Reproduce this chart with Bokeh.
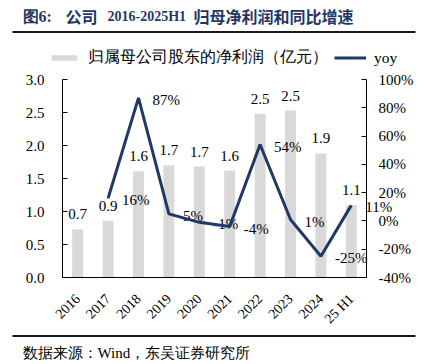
from bokeh.plotting import figure
from bokeh.models import (Range1d, LinearAxis, FixedTicker, PrintfTickFormatter,
                          ColumnDataSource, Legend, LegendItem)
from bokeh.embed import file_html
from bokeh.resources import INLINE
from bokeh.core.properties import value

# ---- data ----
categories = ["2016", "2017", "2018", "2019", "2020", "2021", "2022", "2023", "2024", "25 H1"]
profit = [0.73, 0.86, 1.61, 1.70, 1.68, 1.62, 2.48, 2.53, 1.88, 1.10]
yoy = [None, 16, 87, 5, -1, -4, 54, 1, -25, 11]
left_ticks = [0.0, 0.5, 1.0, 1.5, 2.0, 2.5, 3.0]
right_ticks = [-40, -20, 0, 20, 40, 60, 80, 100]
bar_label = "归属母公司股东的净利润（亿元）"
line_label = "yoy"
title_parts = ["图6:", "公司", "2016-2025H1", "归母净利润和同比增速"]
source_text = "数据来源：Wind，东吴证券研究所"

SERIF = "Liberation Serif"
CJK = "Noto Sans CJK SC"
NAVY = "#1f3864"
GREY = "#d9d9d9"
RULE = "#1a1a1a"

# ---- page geometry (pixels of the 423x364 picture; Bokeh's page has no body margin) ----
W, H = 423, 364
ORG_X, ORG_Y = 0, 0
AX_L, AX_R = 62.0, 366.0        # left / right axis lines
Y_TOP, Y_BOT = 79.0, 277.0      # 3.0 and 0.0 on left axis
L_MIN, L_MAX = 0.0, 3.0
R_MIN, R_MAX = -40.0, 100.0
n = len(categories)
step = (AX_R - AX_L) / n
ppu = (Y_BOT - Y_TOP) / (L_MAX - L_MIN)


def px2x(px):
    return (px - AX_L) / step - 0.5


def px2y(py):
    return (Y_BOT - py) / ppu


def y2r(y):
    return R_MIN + (y - L_MIN) * (R_MAX - R_MIN) / (L_MAX - L_MIN)


y_lo, y_hi = px2y(ORG_Y + H), px2y(ORG_Y)

p = figure(width=W, height=H, x_range=Range1d(px2x(ORG_X), px2x(ORG_X + W)),
           y_range=Range1d(y_lo, y_hi), output_backend="svg", toolbar_location=None,
           min_border=0, min_border_left=0, min_border_right=0,
           min_border_top=0, min_border_bottom=0)
p.extra_y_ranges = {"yoy": Range1d(y2r(y_lo), y2r(y_hi))}
p.outline_line_color = None
p.xgrid.grid_line_color = None
p.ygrid.grid_line_color = None
p.background_fill_color = None
p.border_fill_color = None

xs = list(range(n))
bar_src = ColumnDataSource(dict(x=xs, y=profit, txt=["%.1f" % v for v in profit]))
yx = [i for i, v in zip(xs, yoy) if v is not None]
yy = [v for v in yoy if v is not None]
line_src = ColumnDataSource(dict(x=yx, y=yy, txt=["%d%%" % v for v in yy]))

bars = p.vbar(x="x", top="y", width=0.36, source=bar_src, fill_color=GREY, line_color=None)
p.text(x="x", y="y", text="txt", source=bar_src, text_align="center", text_baseline="middle",
       y_offset=-15, text_font=value(SERIF), text_font_size="15px", text_color="#000000")
p.text(x="x", y="y", text="txt", source=line_src, y_range_name="yoy", text_align="left",
       text_baseline="middle", x_offset=14, y_offset=2, text_font=value(SERIF),
       text_font_size="15px", text_color="#000000")
ln = p.line(x="x", y="y", source=line_src, y_range_name="yoy", line_color=NAVY, line_width=3)

# ---- axes (fixed inside the frame) ----
xa = p.xaxis[0]
xa.fixed_location = L_MIN
xa.bounds = (-0.5, n - 0.5)
xa.ticker = FixedTicker(ticks=xs)
xa.major_label_overrides = {i: c for i, c in zip(xs, categories)}
xa.major_tick_in = 0
xa.major_tick_out = 0
xa.minor_tick_line_color = None
xa.axis_line_color = "#000000"
xa.major_label_orientation = 0.785398
xa.major_label_text_font = SERIF
xa.major_label_text_font_size = "14px"
xa.major_label_text_color = "#000000"
xa.major_label_standoff = 19

yl = p.yaxis[0]
yl.fixed_location = -0.5
yl.bounds = (L_MIN, L_MAX)
yl.ticker = FixedTicker(ticks=left_ticks)
yl.formatter = PrintfTickFormatter(format="%.1f")
ra = LinearAxis(y_range_name="yoy", ticker=FixedTicker(ticks=right_ticks),
                formatter=PrintfTickFormatter(format="%d%%"))
ra.fixed_location = n - 0.5
ra.bounds = (R_MIN, R_MAX)
p.add_layout(ra, "right")
for ax in (yl, ra):
    ax.major_tick_in = 5
    ax.major_tick_out = 0
    ax.minor_tick_line_color = None
    ax.axis_line_color = "#000000"
    ax.major_tick_line_color = "#000000"
    ax.major_label_text_font = SERIF
    ax.major_label_text_font_size = "15px"
    ax.major_label_text_color = "#000000"
yl.major_label_standoff = 18
ra.major_label_standoff = 12

# ---- legend ----
legend = Legend(items=[LegendItem(label=bar_label, renderers=[bars]),
                       LegendItem(label=line_label, renderers=[ln])],
                orientation="horizontal", location=(48 - ORG_X, ORG_Y + H - 68),
                border_line_color=None, background_fill_alpha=0,
                padding=0, margin=0, spacing=6, label_standoff=8,
                glyph_width=32, glyph_height=7,
                label_text_font=SERIF, label_text_font_size="15.5px",
                label_text_color="#000000")
p.add_layout(legend, "center")

# ---- title, rules, source note ----
title_x = [22, 65, 107, 193]
title_font = [SERIF, CJK, SERIF, CJK]
title_size = ["16px", "16px", "14px", "16px"]
for t, tx, tf, ts in zip(title_parts, title_x, title_font, title_size):
    p.text(x=[px2x(tx)], y=[px2y(15.5)], text=[t], text_align="left",
           text_baseline="middle", text_font=value(tf), text_font_style="bold",
           text_font_size=ts, text_color=NAVY)
p.segment(x0=[px2x(12)], x1=[px2x(415)], y0=[px2y(31.5)], y1=[px2y(31.5)],
          line_color=RULE, line_width=2)
p.segment(x0=[px2x(12)], x1=[px2x(415)], y0=[px2y(335.5)], y1=[px2y(335.5)],
          line_color=RULE, line_width=2)
p.text(x=[px2x(22)], y=[px2y(352)], text=[source_text], text_align="left",
       text_baseline="middle", text_font=value(SERIF), text_font_size="15px",
       text_color="#000000")

open("out.html", "w").write(file_html(p, INLINE))
